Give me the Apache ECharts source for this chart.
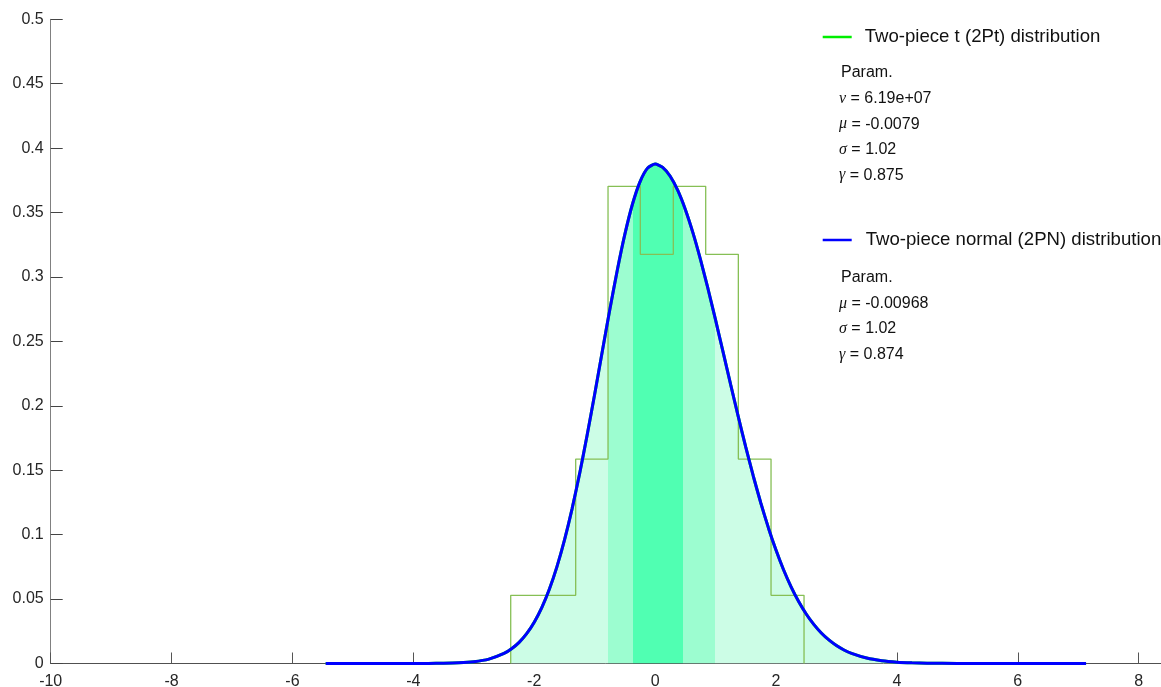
<!DOCTYPE html>
<html>
<head>
<meta charset="utf-8">
<script src="https://cdn.jsdelivr.net/npm/echarts@6/dist/echarts.min.js"></script>
<style>
  html, body { margin: 0; padding: 0; background: #fff; }
  #chart { width: 1161px; height: 687px; }
</style>
</head>
<body>
<div id="chart"></div>
<script>
// density of the fitted curve
const curveX = [-5.45, -5, -4.5, -4, -3.75, -3.5, -3.25, -3, -2.75, -2.5,
  -2.375, -2.25, -2.125, -2, -1.875, -1.75, -1.625, -1.5, -1.375, -1.25,
  -1.125, -1, -0.875, -0.75, -0.625, -0.5, -0.375, -0.25, -0.125, 0,
  0.125, 0.25, 0.375, 0.5, 0.625, 0.75, 0.875, 1, 1.125, 1.25,
  1.375, 1.5, 1.625, 1.75, 1.875, 2, 2.125, 2.25, 2.375, 2.5,
  2.625, 2.75, 2.875, 3, 3.125, 3.25, 3.5, 3.75, 4, 4.25,
  4.5, 5, 5.5, 6, 6.5, 7.13]
const curveY = [0, 0, 0.000001, 0.000017, 0.000058, 0.00018, 0.00052, 0.00139, 0.00342, 0.0078,
  0.01144, 0.01643, 0.02315, 0.03199, 0.04333, 0.05756, 0.07496, 0.09572, 0.11985, 0.14714,
  0.17712, 0.20905, 0.24193, 0.27454, 0.30545, 0.33323, 0.35645, 0.37385, 0.38447, 0.3877,
  0.38513, 0.37822, 0.3672, 0.35243, 0.3344, 0.31367, 0.29088, 0.26665, 0.24167, 0.21651,
  0.19177, 0.16792, 0.14535, 0.12439, 0.10523, 0.08802, 0.07275, 0.05948, 0.04806, 0.03839,
  0.03033, 0.02366, 0.01827, 0.01394, 0.01051, 0.00784, 0.00421, 0.00216, 0.00106, 0.0005,
  0.00022, 0.00004, 0.000005, 0, 0, 0]

// histogram (bin edges + heights)
const histEdges = [-2.389, -1.314, -0.779, -0.245, 0.301, 0.837, 1.377, 1.918, 2.464]
const histHeights = [0.0529, 0.1587, 0.3704, 0.3176, 0.3704, 0.3176, 0.1587, 0.0529]

// shaded bands under the curve
const bandEdges = [-2.389, -0.774, -0.371, 0.457, 0.991, 5.0]
const bandColors = ['#ccfde6', '#9cfdd0', '#50ffb2', '#9cfdd0', '#ccfde6']

const xTicks = [-10, -8, -6, -4, -2, 0, 2, 4, 6, 8]

const ptName = 'Two-piece t (2Pt) distribution'
const pnName = 'Two-piece normal (2PN) distribution'
const ptParams = [['ν', '6.19e+07'], ['μ', '-0.0079'], ['σ', '1.02'], ['γ', '0.875']]
const pnParams = [['μ', '-0.00968'], ['σ', '1.02'], ['γ', '0.874']]

const FONT = 'Liberation Sans, Arial, sans-serif'

let curve = curveX.map((x, i) => [x, curveY[i]])

let hist = [[histEdges[0], 0]]
histHeights.forEach((h, i) => {
  hist.push([histEdges[i], h])
  hist.push([histEdges[i + 1], h])
})
hist.push([histEdges[histEdges.length - 1], 0])

let pieces = [{ lt: bandEdges[0], color: 'rgba(255,255,255,0)' }]
bandColors.forEach((c, i) => {
  pieces.push({ gte: bandEdges[i], lt: bandEdges[i + 1], color: c })
})
pieces.push({ gte: bandEdges[bandEdges.length - 1], color: 'rgba(255,255,255,0)' })

// parameter text blocks
function paramBlock (params, top0, lineTops) {
  let items = [{
    type: 'text',
    x: 841,
    y: top0,
    style: { text: 'Param.', font: '16px ' + FONT, fill: '#111', verticalAlign: 'middle' }
  }]
  params.forEach((p, i) => {
    items.push({
      type: 'text',
      x: 839,
      y: lineTops[i],
      style: {
        text: '{g|' + p[0] + '} = ' + p[1],
        font: '16px ' + FONT,
        fill: '#111',
        verticalAlign: 'middle',
        rich: {
          g: { fontFamily: 'Liberation Serif', fontStyle: 'italic', fontSize: 16, fill: '#111' }
        }
      }
    })
  })
  return items
}

let chart = echarts.init(document.getElementById('chart'))
let option = {
  animation: false,
  backgroundColor: '#fff',
  textStyle: { fontFamily: FONT },
  grid: { left: 50.7, right: 0, top: 19.3, bottom: 23.5, outerBoundsMode: 'none' },
  xAxis: {
    type: 'value',
    min: -10,
    max: 8.37,
    axisLine: { onZero: false, lineStyle: { color: '#505050', width: 1 } },
    axisTick: { inside: true, length: 11, customValues: xTicks, lineStyle: { color: '#555' } },
    axisLabel: { customValues: xTicks, margin: 10, fontSize: 16, color: '#262626', fontFamily: FONT },
    splitLine: { show: false }
  },
  yAxis: {
    type: 'value',
    min: 0,
    max: 0.5,
    interval: 0.05,
    axisLine: { show: true, onZero: false, lineStyle: { color: '#808080', width: 1 } },
    axisTick: { show: true, inside: true, length: 12, lineStyle: { color: '#444' } },
    axisLabel: { margin: 7, fontSize: 16, color: '#262626', fontFamily: FONT },
    splitLine: { show: false }
  },
  visualMap: {
    show: false,
    type: 'piecewise',
    seriesIndex: 0,
    dimension: 0,
    pieces: pieces,
    outOfRange: { color: 'rgba(255,255,255,0)' }
  },
  legend: [
    {
      data: [ptName],
      left: 822.7,
      top: 27.5,
      padding: 0,
      icon: 'rect',
      itemWidth: 29,
      itemHeight: 2.5,
      selectedMode: false,
      textStyle: { fontSize: 18.6, color: '#111', fontFamily: FONT, padding: [0, 0, 0, 8] }
    },
    {
      data: [pnName],
      left: 822.7,
      top: 230.5,
      padding: 0,
      icon: 'rect',
      itemWidth: 29,
      itemHeight: 2.5,
      selectedMode: false,
      textStyle: { fontSize: 18.6, color: '#111', fontFamily: FONT, padding: [0, 0, 0, 9] }
    }
  ],
  graphic: paramBlock(ptParams, 72.5, [98.6, 124.1, 149.6, 175.1])
    .concat(paramBlock(pnParams, 278, [303.5, 329, 354.5])),
  series: [
    {
      name: 'bands',
      type: 'line',
      data: curve,
      showSymbol: false,
      silent: true,
      lineStyle: { width: 0 },
      areaStyle: { opacity: 1 },
      z: 1
    },
    {
      name: 'histogram',
      type: 'line',
      data: hist,
      showSymbol: false,
      silent: true,
      lineStyle: { color: '#86bf55', width: 1.3 },
      itemStyle: { color: '#86bf55' },
      z: 2
    },
    {
      name: ptName,
      type: 'line',
      data: curve,
      smooth: 0.2,
      showSymbol: false,
      lineStyle: { color: '#00ee00', width: 3 },
      itemStyle: { color: '#00ee00' },
      z: 3
    },
    {
      name: pnName,
      type: 'line',
      data: curve,
      smooth: 0.2,
      showSymbol: false,
      lineStyle: { color: '#0000ff', width: 3 },
      itemStyle: { color: '#0000ff' },
      z: 4
    }
  ]
}
chart.setOption(option)
</script>
</body>
</html>
